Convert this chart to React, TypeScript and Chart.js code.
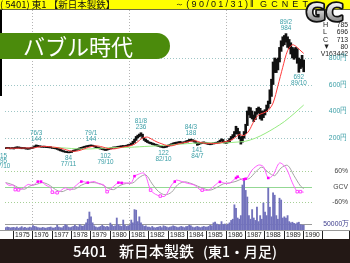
import React, { useEffect, useRef } from 'react';
import { Chart, registerables } from 'chart.js';

Chart.register(...registerables);

// ---- data (monthly, first bar = 1974/08) ----
const firstYear = 1974;
const firstMonth = 8;
const baseYear = 1975; // month index 0 = 1975/01

const priceHigh = [
  124, 126, 125, 122, 124,
  124, 127, 130, 129, 127, 125, 125, 124, 121, 120, 122, 125,
  129, 137, 144, 141, 138, 136, 134, 135, 133, 132, 131, 130,
  126, 124, 122, 120, 116, 111, 106, 101, 97, 95, 91, 93,
  98, 104, 108, 112, 117, 123, 126, 130, 134, 137, 140, 142,
  144, 142, 139, 134, 129, 125, 121, 118, 115, 111, 113, 118,
  121, 126, 129, 128, 132, 134, 136, 138, 140, 139, 142, 147,
  150, 158, 172, 188, 208, 218, 226, 236, 225, 198, 186, 178,
  168, 164, 160, 155, 150, 147, 142, 138, 135, 131, 132, 139,
  143, 149, 154, 159, 163, 165, 167, 170, 168, 165, 169, 175,
  179, 185, 188, 184, 180, 172, 160, 160, 162, 165, 167, 164,
  160, 158, 155, 158, 160, 163, 165, 170, 180, 190, 185, 170,
  168, 178, 192, 208, 222, 245, 285, 270, 245, 205, 210, 245,
  300, 400, 430, 425, 400, 370, 395, 420, 430, 420, 400, 400,
  410, 445, 475, 560, 640, 770, 800, 790, 800, 880, 930, 960,
  970, 984, 960, 940, 915, 880, 870, 880, 870, 800, 790, 820,
  785,
];
const priceLow = [
  116, 118, 117, 114, 116,
  113, 116, 120, 119, 117, 115, 116, 114, 112, 111, 113, 116,
  119, 125, 132, 131, 129, 127, 126, 126, 124, 123, 122, 121,
  118, 116, 114, 110, 104, 99, 95, 91, 88, 86, 84, 85,
  87, 94, 99, 103, 107, 111, 117, 121, 125, 128, 131, 133,
  135, 133, 129, 123, 119, 115, 112, 109, 105, 102, 104, 109,
  112, 116, 120, 119, 122, 125, 127, 129, 131, 130, 133, 136,
  138, 143, 148, 162, 178, 196, 205, 212, 195, 178, 168, 162,
  156, 152, 147, 143, 140, 135, 131, 128, 125, 122, 124, 127,
  133, 138, 143, 148, 152, 155, 157, 160, 158, 155, 159, 164,
  166, 172, 176, 172, 165, 156, 141, 146, 152, 154, 157, 153,
  150, 147, 145, 148, 151, 153, 155, 158, 165, 172, 163, 157,
  155, 160, 165, 182, 195, 205, 228, 225, 190, 150, 165, 195,
  230, 290, 370, 350, 340, 320, 335, 375, 385, 340, 330, 350,
  370, 395, 420, 455, 510, 600, 690, 690, 710, 770, 850, 890,
  900, 920, 880, 870, 830, 800, 790, 800, 760, 692, 720, 730,
  696,
];
const volume = [
  20000, 25000, 22000, 18000, 20000,
  22000, 18000, 25000, 15000, 20000, 28000, 18000, 22000, 16000, 18000, 24000, 20000,
  36000, 30000, 26000, 20000, 18000, 15000, 22000, 18000, 15000, 20000, 22000, 25000,
  18000, 15000, 22000, 40000, 25000, 20000, 18000, 30000, 45000, 38000, 25000, 20000,
  25000, 30000, 40000, 30000, 25000, 45000, 35000, 30000, 40000, 60000, 90000, 150000,
  110000, 60000, 35000, 25000, 20000, 25000, 30000, 40000, 30000, 25000, 30000, 25000,
  58000, 40000, 30000, 35000, 100000, 45000, 35000, 30000, 83000, 40000, 30000, 35000,
  40000, 83000, 60000, 170000, 165000, 70000, 110000, 60000, 40000, 30000, 35000, 25000,
  25000, 20000, 30000, 20000, 18000, 22000, 25000, 30000, 20000, 35000, 30000, 25000,
  20000, 25000, 28000, 35000, 30000, 25000, 20000, 25000, 30000, 25000, 20000, 28000,
  30000, 40000, 35000, 25000, 20000, 25000, 30000, 25000, 20000, 25000, 30000, 25000,
  25000, 30000, 40000, 35000, 60000, 65000, 50000, 45000, 40000, 70000, 45000, 50000,
  40000, 50000, 60000, 80000, 90000, 210000, 180000, 100000, 90000, 120000, 375000, 415000,
  330000, 275000, 120000, 90000, 170000, 100000, 80000, 190000, 70000, 120000, 90000, 225000,
  150000, 120000, 350000, 190000, 110000, 310000, 290000, 120000, 90000, 265000, 250000, 100000,
  110000, 100000, 120000, 70000, 60000, 65000, 55000, 50000, 60000, 65000, 45000, 40000,
  40000,
];

// moving averages (month index from 1975/01, value in yen)
const maShortMonths = [-5, 0, 5, 8, 12, 15, 18, 21, 24, 27, 30, 33, 36, 39, 42, 45, 48, 51, 54, 57, 60, 63, 66, 69, 72, 75, 78, 80, 83, 86, 89, 92, 95, 98, 101, 104, 107, 110, 113, 116, 119, 122, 125, 128, 131, 134, 137, 140, 143, 146, 149, 152, 155, 158, 161, 164, 167, 170, 173, 176, 179, 180];
const maShortValues = [120, 119, 120, 121, 121, 127, 133, 132, 128, 124, 116, 106, 97, 97, 106, 120, 131, 137, 132, 122, 114, 115, 123, 131, 137, 150, 178, 196, 203, 185, 166, 152, 140, 137, 147, 157, 164, 172, 175, 163, 156, 156, 154, 158, 168, 175, 195, 222, 215, 250, 320, 370, 385, 405, 460, 590, 730, 855, 900, 880, 845, 835];
const maLongMonths = [24, 30, 36, 42, 48, 54, 60, 66, 72, 78, 84, 90, 96, 102, 108, 114, 120, 126, 132, 138, 144, 150, 156, 162, 168, 174, 180];
const maLongValues = [126, 122, 117, 113, 114, 119, 123, 124, 126, 130, 134, 137, 142, 148, 154, 158, 160, 158, 160, 165, 172, 195, 230, 272, 320, 380, 445];

// GCV oscillator (%)
const gcvMonths = [-5, -3, 0, 1, 2, 3, 5, 9, 12, 15, 17, 20, 23, 24, 25, 27, 28, 32, 35, 38, 42, 46, 50, 53, 56, 58, 61, 65, 67, 69, 73, 75, 76, 81, 85, 88, 91, 94, 98, 100, 101, 104, 108, 112, 116, 117, 121, 125, 128, 131, 134, 137, 138, 139, 142, 143, 144, 145, 148, 152, 155, 158, 161, 165, 169, 173, 176, 178, 180];
const gcvValues = [14, 5, 5, -12, -14, -13, -10, 8, 5, 19, 19, 5, -5, -22, -25, -24, -22, -5, -14, 0, 19, 15, 19, 10, 6, -20, -5, 15, 14, 14, 15, 40, 44, 51, -14, -30, -37, -37, 6, 19, 25, 20, 12, 6, -14, -14, -14, 5, 18, 13, 13, 28, 33, 38, 25, 28, 30, 33, 64, 83, 77, 33, 44, 91, 72, 14, -20, -20, -22];
const gcvSlowMonths = [-5, -2, 1, 4, 7, 10, 14, 18, 22, 26, 30, 34, 38, 42, 46, 50, 54, 58, 62, 66, 70, 74, 78, 82, 86, 90, 94, 98, 102, 106, 110, 114, 118, 122, 126, 130, 134, 138, 142, 146, 150, 154, 158, 162, 166, 170, 174, 178, 180];
const gcvSlowValues = [15, 10, 2, -8, -10, 2, 8, 15, 6, -12, -20, -10, -10, 5, 14, 15, 10, -5, -12, 4, 12, 14, 35, 45, 10, -20, -32, -22, 8, 18, 12, 2, -8, -14, -4, 10, 14, 20, 30, 30, 55, 75, 55, 42, 72, 82, 42, 2, -8];
const sellMonths = [15, 17, 42, 46, 65, 67, 75, 100, 128, 138, 139, 143, 144, 158];
const sellValues = [19, 19, 19, 15, 15, 14, 40, 19, 18, 33, 38, 28, 30, 33];
const buyMonths = [1, 3, 24, 27, 58, 85, 91, 117, 176, 178];
const buyValues = [-12, -13, -22, -24, -20, -14, -37, -14, -20, -20];

// labels
const priceTicks = [200, 400, 600, 800];
const gcvTicks = [60, 0, -60];
const volumeTick = 50000;
const yearLabels = ['1975', '1976', '1977', '1978', '1979', '1980', '1981', '1982', '1983', '1984', '1985', '1986', '1987', '1988', '1989', '1990'];
const gridYears = [1976, 1981, 1986];
const peakNotes = [
  ['76/3', 144, 'hi'], ['77/11', 84, 'lo'], ['79/1', 144, 'hi'], ['79/10', 102, 'lo'],
  ['81/8', 236, 'hi'], ['82/10', 122, 'lo'], ['84/3', 188, 'hi'], ['84/7', 141, 'lo'],
  ['89/2', 984, 'hi'], ['89/10', 692, 'lo'],
];
const infoRows = [['H', '785'], ['L', '696'], ['C', '713'], ['▼', '80']];
const infoVolume = 'V163442';
const headerLeft = '( 5401) 東1 【新日本製鉄】';
const headerDate = '～(90/01/31)';
const headerSite = 'GCNET';
const badgeText = 'バブル時代';
const footerCode = '5401';
const footerName = '新日本製鉄';
const footerMarket = '(東1・月足)';

const monthOf = (y: number, m: number) => (y - baseYear) * 12 + (m - 1);
const startIdx = monthOf(firstYear, firstMonth);

const NUM = '"Liberation Sans", Arial, sans-serif';
const JP = '"Noto Sans CJK JP", sans-serif';

function sText(ctx: CanvasRenderingContext2D, s: string, x: number, y: number, size: number, sx: number, color: string, align = 'left', family = NUM, weight = '') {
  ctx.save();
  ctx.font = `${weight} ${size}px ${family}`;
  ctx.fillStyle = color;
  ctx.textBaseline = 'middle';
  ctx.textAlign = 'left';
  const w = ctx.measureText(s).width * sx;
  let left = x;
  if (align === 'center') left = x - w / 2;
  else if (align === 'right') left = x - w;
  ctx.translate(left, y);
  ctx.scale(sx, 1);
  ctx.fillText(s, 0, 0);
  ctx.restore();
}

function spaced(ctx: CanvasRenderingContext2D, s: string, x0: number, total: number, y: number) {
  const chars = Array.from(s);
  const widths = chars.map((c) => ctx.measureText(c).width);
  const sum = widths.reduce((a, b) => a + b, 0);
  const gap = chars.length > 1 ? (total - sum) / (chars.length - 1) : 0;
  let x = x0;
  chars.forEach((c, i) => { ctx.fillText(c, x, y); x += widths[i] + gap; });
}

const decor = {
  id: 'decor',
  beforeDatasetsDraw(chart: any) {
    const { ctx, chartArea: a, scales } = chart;
    const x = scales.x, yP = scales.yP, yO = scales.yO, yV = scales.yV;
    const line = (x1: number, y1: number, x2: number, y2: number) => { ctx.beginPath(); ctx.moveTo(x1, y1); ctx.lineTo(x2, y2); ctx.stroke(); };
    ctx.save();
    ctx.lineWidth = 1;
    ctx.setLineDash([1, 2]);
    ctx.strokeStyle = '#b4b4b4';
    gridYears.forEach((yr) => {
      const px = Math.round(x.getPixelForValue(monthOf(yr, 1) - 0.5)) + 0.5;
      line(px, a.top, px, a.bottom);
    });
    ctx.strokeStyle = '#9ec6c6';
    priceTicks.forEach((v) => { const py = Math.round(yP.getPixelForValue(v)) + 0.5; line(a.left, py, a.right, py); });
    ctx.strokeStyle = '#a6cf96';
    [60, -60].forEach((v) => { const py = Math.round(yO.getPixelForValue(v)) + 0.5; line(a.left, py, a.right, py); });
    ctx.setLineDash([]);
    ctx.strokeStyle = '#93d893';
    { const py = Math.round(yO.getPixelForValue(0)) + 0.5; line(a.left, py, a.right, py); }
    ctx.strokeStyle = '#9a9a9a';
    { const py = Math.round(yV.getPixelForValue(volumeTick)) + 0.5; line(a.left, py, a.right, py); }
    ctx.restore();
  },
  afterDraw(chart: any) {
    const { ctx, chartArea: a, scales } = chart;
    const x = scales.x, yP = scales.yP, yO = scales.yO, yV = scales.yV;
    const W = chart.width, H = chart.height;
    ctx.save();

    // header
    ctx.fillStyle = '#ffff00';
    ctx.fillRect(0, 0, W, 9);
    ctx.fillStyle = '#6a6a40';
    ctx.fillRect(0, 9, W, 1);
    ctx.fillStyle = '#111';
    ctx.textBaseline = 'middle';
    ctx.textAlign = 'left';
    ctx.font = `9.5px ${JP}`;
    ctx.fillText(headerLeft, 0, 4.8, 122);
    ctx.font = `9px ${NUM}`;
    spaced(ctx, headerDate, 175, 73, 4.8);
    ctx.fillText('‖', 250, 4.8);
    spaced(ctx, headerSite, 260, 48, 4.8);

    // left strip
    ctx.fillStyle = '#000';
    ctx.fillRect(0, 10, 2, 86);

    // badge
    ctx.fillStyle = '#4b8b0c';
    ctx.beginPath();
    ctx.moveTo(0, 33);
    ctx.lineTo(157, 33);
    ctx.arc(157, 46, 13, -Math.PI / 2, Math.PI / 2);
    ctx.lineTo(0, 59);
    ctx.closePath();
    ctx.fill();
    ctx.fillStyle = '#ffffff';
    ctx.font = `22px ${JP}`;
    ctx.textBaseline = 'middle';
    ctx.fillText(badgeText, 23, 47, 116);

    // info column
    infoRows.forEach((r, i) => {
      const yy = 24.5 + i * 7.4;
      sText(ctx, r[0], 323, yy, 8, 0.9, '#222');
      sText(ctx, r[1], 348, yy, 8, 0.85, '#222', 'right');
    });
    sText(ctx, infoVolume, 348, 54, 8, 0.85, '#222', 'right');

    // GC logo
    ctx.save();
    ctx.font = `bold 24px "DejaVu Sans", sans-serif`;
    ctx.textBaseline = 'alphabetic';
    ctx.textAlign = 'left';
    ctx.lineJoin = 'round';
    ctx.lineWidth = 3.5;
    ctx.strokeStyle = '#111';
    ctx.strokeText('GC', 306, 20.5, 40);
    const g = ctx.createLinearGradient(0, 3, 0, 21);
    g.addColorStop(0, '#f4f4f4');
    g.addColorStop(0.5, '#c8c8c8');
    g.addColorStop(1, '#8c8c8c');
    ctx.fillStyle = g;
    ctx.fillText('GC', 306, 20.5, 40);
    ctx.restore();

    // peak / trough notes
    const teal = '#3a9ea6';
    peakNotes.forEach(([d, v, kind]: any) => {
      const [yy, mm] = String(d).split('/').map(Number);
      const px = x.getPixelForValue(monthOf(1900 + yy, mm));
      const py = yP.getPixelForValue(v);
      if (kind === 'hi') {
        sText(ctx, d, px, py - 12, 7.5, 0.85, teal, 'center');
        sText(ctx, String(v), px, py - 6, 7.5, 0.85, teal, 'center');
      } else {
        sText(ctx, String(v), px, py + 5, 7.5, 0.85, teal, 'center');
        sText(ctx, d, px, py + 11, 7.5, 0.85, teal, 'center');
      }
    });
    sText(ctx, '15', 0, 156, 7.5, 0.85, teal);
    sText(ctx, '95', 0, 161, 7.5, 0.85, teal);
    sText(ctx, '7/10', -2, 166, 7.5, 0.85, teal);

    // right axis labels
    priceTicks.forEach((v) => sText(ctx, `${v}円`, 347, yP.getPixelForValue(v), 8, 0.85, teal, 'right'));
    gcvTicks.forEach((v) => sText(ctx, v === 0 ? 'GCV' : `${v}%`, 348, yO.getPixelForValue(v), 8, 0.85, '#444', 'right'));
    sText(ctx, `${volumeTick}万`, 349, yV.getPixelForValue(volumeTick), 8, 0.85, '#3b3b8c', 'right');

    // year axis
    const top = a.bottom;
    ctx.fillStyle = '#ffffff';
    ctx.fillRect(0, top + 0.5, W, 9);
    ctx.fillStyle = '#9a9a9a';
    ctx.fillRect(0, top, W, 1);
    yearLabels.forEach((lab, k) => {
      const left = Math.round(x.getPixelForValue(k * 12 - 0.5));
      ctx.fillStyle = '#222';
      ctx.fillRect(left, top + 1, 1, 8);
      sText(ctx, lab, left + 2, top + 5, 7, 0.95, '#222');
    });
    const end = Math.round(x.getPixelForValue(yearLabels.length * 12 - 0.5));
    ctx.fillStyle = '#222';
    ctx.fillRect(end, top + 1, 1, 8);
    ctx.fillRect(W - 1, top + 1, 1, 8);

    // footer
    ctx.fillStyle = '#231815';
    ctx.fillRect(0, top + 9, W, H - top - 9);
    ctx.fillStyle = '#ffffff';
    ctx.textBaseline = 'middle';
    ctx.textAlign = 'left';
    ctx.font = `500 15px ${JP}`;
    const fy = top + 9 + (H - top - 9) / 2 + 0.5;
    ctx.fillText(footerCode, 73, fy, 34);
    ctx.fillText(footerName, 119, fy, 80);
    ctx.font = `500 14px ${JP}`;
    ctx.fillText(footerMarket, 203, fy, 75);
    ctx.restore();
  },
};

export default function App() {
  const ref = useRef<HTMLCanvasElement | null>(null);
  useEffect(() => {
    if (!ref.current) return;
    const idx = (i: number) => startIdx + i;
    const chart = new Chart(ref.current, {
      type: 'bar',
      data: {
        datasets: [
          {
            type: 'line', yAxisID: 'yP', order: 1,
            data: maShortMonths.map((m, i) => ({ x: m, y: maShortValues[i] })),
            borderColor: '#ff3b3b', borderWidth: 1, pointRadius: 0, tension: 0.3,
          } as any,
          {
            type: 'line', yAxisID: 'yP', order: 2,
            data: maLongMonths.map((m, i) => ({ x: m, y: maLongValues[i] })),
            borderColor: '#95ea80', borderWidth: 1, pointRadius: 0, tension: 0.3,
          } as any,
          {
            type: 'bar', yAxisID: 'yP', order: 3, grouped: false,
            data: priceHigh.map((h, i) => ({ x: idx(i), y: [priceLow[i], h] })),
            backgroundColor: '#111111', borderWidth: 0, barThickness: 2,
          } as any,
          {
            type: 'line', yAxisID: 'yO', order: 4, showLine: false,
            data: sellMonths.map((m, i) => ({ x: m, y: sellValues[i] })),
            pointStyle: 'rect', pointRadius: 1.8, backgroundColor: '#ff00ff', borderColor: '#ff00ff', borderWidth: 0,
          } as any,
          {
            type: 'line', yAxisID: 'yO', order: 5, showLine: false,
            data: buyMonths.map((m, i) => ({ x: m, y: buyValues[i] })),
            pointStyle: 'rect', pointRadius: 1.8, backgroundColor: '#ffffff', borderColor: '#ff44ff', borderWidth: 1,
          } as any,
          {
            type: 'line', yAxisID: 'yO', order: 6,
            data: gcvMonths.map((m, i) => ({ x: m, y: gcvValues[i] })),
            borderColor: '#ff5cff', borderWidth: 1, pointRadius: 0, tension: 0.3,
          } as any,
          {
            type: 'line', yAxisID: 'yO', order: 7,
            data: gcvSlowMonths.map((m, i) => ({ x: m, y: gcvSlowValues[i] })),
            borderColor: '#a4a4a4', borderWidth: 1, pointRadius: 0, tension: 0.3,
          } as any,
          {
            type: 'bar', yAxisID: 'yV', order: 8, grouped: false,
            data: volume.map((v, i) => ({ x: idx(i), y: v })),
            backgroundColor: '#7272bc', borderWidth: 0, barThickness: 1.2,
          } as any,
        ],
      },
      options: {
        animation: false,
        responsive: false,
        maintainAspectRatio: false,
        events: [],
        layout: { padding: { left: 0, right: 38, top: 10, bottom: 33 } },
        plugins: { legend: { display: false }, tooltip: { enabled: false } },
        scales: {
          x: { type: 'linear', display: false, offset: false, bounds: 'ticks', min: -5.374, max: 185.16 },
          yP: { type: 'linear', display: false, min: -498.1, max: 1162.3 },
          yO: { type: 'linear', display: false, min: -168.4, max: 683.3 },
          yV: { type: 'linear', display: false, min: 0, max: 1833333 },
        },
      } as any,
      plugins: [decor as any],
    });
    return () => chart.destroy();
  }, []);
  return (
    <div style={{ position: 'fixed', left: 0, top: 0, width: 350, height: 263, background: '#fff' }}>
      <canvas ref={ref} width={350} height={263} style={{ display: 'block', width: 350, height: 263 }} />
    </div>
  );
}
